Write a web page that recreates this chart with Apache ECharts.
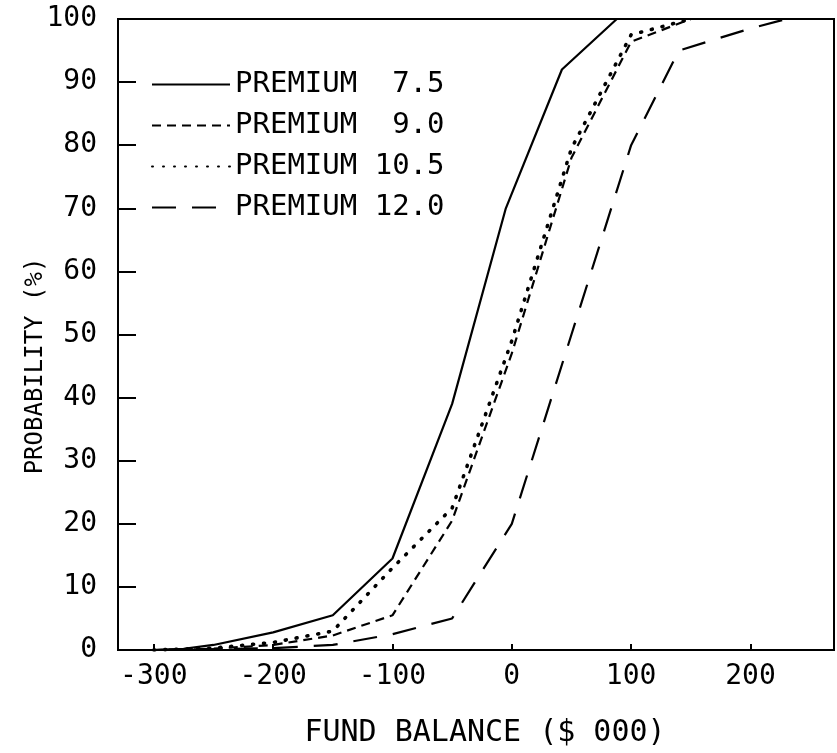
<!DOCTYPE html>
<html>
<head>
<meta charset="utf-8">
<script src="https://cdn.jsdelivr.net/npm/echarts@6/dist/echarts.min.js"></script>
<style>
html,body{margin:0;padding:0;background:#fff;}
#chart{width:837px;height:753px;}
</style>
</head>
<body>
<div id="chart"></div>
<script>
// ---- data ----
const seriesNames = ['PREMIUM  7.5', 'PREMIUM  9.0', 'PREMIUM 10.5', 'PREMIUM 12.0'];

const p75X  = [-300, -275, -250, -200, -150, -100, -50, -5, 42, 88];
const p75Y  = [0, 0.2, 0.8, 2.8, 5.5, 14.5, 39, 70, 92, 100];

const p90X  = [-300, -250, -200, -150, -100, -50, 0, 50, 100, 150];
const p90Y  = [0, 0.2, 0.8, 2.3, 5.5, 20.5, 47, 78, 96.4, 100];

const p105X = [-300, -250, -200, -150, -100, -50, 0, 50, 100, 150];
const p105Y = [0, 0.3, 1.2, 3, 13, 22.5, 49, 79.5, 97.5, 100];

const p120X = [-300, -200, -150, -100, -50, 0, 50, 100, 140, 200, 230];
const p120Y = [0, 0.3, 0.8, 2.5, 5, 20, 50, 80, 95, 98.5, 100];

const xTickValues = [-300, -200, -100, 0, 100, 200];

const xAxisTitle = 'FUND BALANCE ($ 000)';
const yAxisTitle = 'PROBABILITY (%)';

// ---- build ----
function zip(xs, ys) { return xs.map((x, i) => [x, ys[i]]); }

const FONT = 'DejaVu Sans Mono';
const styles = [
  { type: 'solid', width: 2.2 },
  { type: [9, 6], width: 2.2 },
  { type: [1, 10], width: 3.6, cap: 'round' },
  { type: [24, 16], width: 2.2 }
];
const dataSets = [zip(p75X, p75Y), zip(p90X, p90Y), zip(p105X, p105Y), zip(p120X, p120Y)];

const chart = echarts.init(document.getElementById('chart'), null, { renderer: 'canvas' });
chart.setOption({
  animation: false,
  backgroundColor: '#fff',
  grid: { left: 118, right: 3, top: 19, bottom: 102, show: true, borderColor: '#000', borderWidth: 2 },
  legend: {
    orient: 'vertical',
    left: 146,
    top: 65,
    itemWidth: 78,
    itemHeight: 14,
    itemGap: 12,
    selectedMode: false,
    itemStyle: { opacity: 0 },
    textStyle: { fontFamily: FONT, fontSize: 29, color: '#000' },
    data: seriesNames
  },
  xAxis: {
    type: 'value',
    min: -330,
    max: 270,
    splitLine: { show: false },
    axisLine: { show: true, onZero: false, lineStyle: { color: '#000', width: 2 } },
    axisTick: { show: true, inside: true, length: 6, customValues: xTickValues, lineStyle: { color: '#000', width: 2 } },
    axisLabel: { customValues: xTickValues, fontFamily: FONT, fontSize: 28, color: '#000', margin: 13 },
    name: xAxisTitle,
    nameLocation: 'middle',
    nameGap: 68,
    nameTextStyle: { fontFamily: FONT, fontSize: 30, color: '#000', padding: [0, 0, 0, 18] }
  },
  yAxis: {
    type: 'value',
    min: 0,
    max: 100,
    interval: 10,
    splitLine: { show: false },
    axisLine: { show: true, onZero: false, lineStyle: { color: '#000', width: 2 } },
    axisTick: { show: true, inside: true, length: 18, lineStyle: { color: '#000', width: 2 } },
    axisLabel: { fontFamily: FONT, fontSize: 28, color: '#000', margin: 21 }
  },
  graphic: [{
    type: 'text',
    x: 36, y: 366,
    rotation: Math.PI / 2,
    style: { text: yAxisTitle, fontFamily: FONT, fontSize: 24, fill: '#000', align: 'center', verticalAlign: 'middle' }
  }],
  series: seriesNames.map((name, i) => ({
    name: name,
    type: 'line',
    data: dataSets[i],
    symbol: 'none',
    smooth: false,
    lineStyle: { color: '#000', width: styles[i].width, type: styles[i].type, cap: styles[i].cap || 'butt' },
    itemStyle: { color: '#000' }
  }))
});
</script>
</body>
</html>
